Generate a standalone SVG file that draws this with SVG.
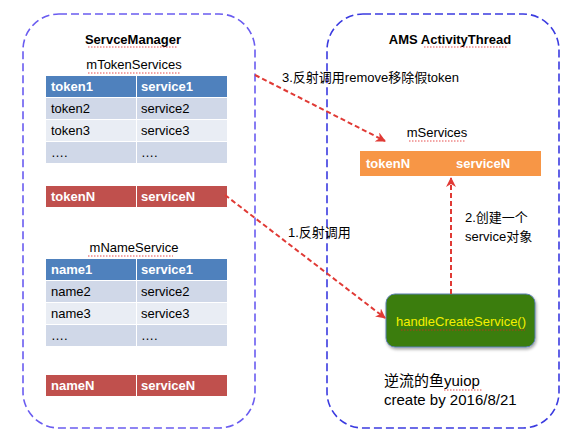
<svg xmlns="http://www.w3.org/2000/svg" width="586" height="445" viewBox="0 0 586 445">
<defs>
<style>
text{font-family:"Liberation Sans","Noto Sans CJK SC",sans-serif;font-size:13px;fill:#000}
.b{font-weight:bold}
.w{fill:#fff;font-weight:bold}
.cont{fill:none;stroke-width:1.6;stroke-dasharray:8,4}
.conn{fill:none;stroke:#E03A35;stroke-width:2;stroke-dasharray:5,3}
.sq{fill:none;stroke:#E02020;stroke-width:0.8;stroke-dasharray:1.5,1.5}
.hd{fill:#4F81BD}
.r1{fill:#D0D8E8}
.r2{fill:#E9EDF4}
.rd{fill:#C0504D}
</style>
<marker id="ah" viewBox="0 0 10 10" refX="9" refY="5" markerWidth="5" markerHeight="5" orient="auto" markerUnits="strokeWidth">
<path d="M0,0 L10,5 L0,10 L3,5 Z" fill="#E03A35"/>
</marker>
<filter id="sh" x="-10%" y="-10%" width="130%" height="140%">
<feDropShadow dx="1" dy="2" stdDeviation="1.5" flood-color="#000" flood-opacity="0.35"/>
</filter>
</defs>

<g id="serviceManager">
<rect x="23" y="14" width="232" height="414" rx="36" class="cont" stroke="#6A5CF0"/>
<text x="133" y="44" text-anchor="middle" class="b">ServceManager</text>
<path d="M88,47 H178" class="sq"/>
</g>

<g id="mTokenServices">
<text x="134" y="69" text-anchor="middle">mTokenServices</text>
<path d="M88,73 H180" class="sq"/>
<rect x="46" y="76" width="90" height="21" class="hd"/><rect x="137" y="76" width="90" height="21" class="hd"/>
<rect x="46" y="98" width="90" height="21" class="r1"/><rect x="137" y="98" width="90" height="21" class="r1"/>
<rect x="46" y="120" width="90" height="21" class="r2"/><rect x="137" y="120" width="90" height="21" class="r2"/>
<rect x="46" y="142" width="90" height="21" class="r1"/><rect x="137" y="142" width="90" height="21" class="r1"/>
<text x="51" y="91" class="w">token1</text><text x="141" y="91" class="w">service1</text>
<text x="51" y="113">token2</text><text x="141" y="113">service2</text>
<text x="51" y="135">token3</text><text x="141" y="135">service3</text>
<text x="51" y="157">….</text><text x="141" y="157">….</text>
</g>

<g id="tokenNRow">
<rect x="46" y="186" width="90" height="21" class="rd"/><rect x="137" y="186" width="90" height="21" class="rd"/>
<text x="51" y="201" class="w">tokenN</text><text x="141" y="201" class="w">serviceN</text>
</g>

<g id="mNameService">
<text x="134" y="252" text-anchor="middle">mNameService</text>
<path d="M88,256 H173" class="sq"/>
<rect x="46" y="259" width="90" height="21" class="hd"/><rect x="137" y="259" width="90" height="21" class="hd"/>
<rect x="46" y="281" width="90" height="21" class="r1"/><rect x="137" y="281" width="90" height="21" class="r1"/>
<rect x="46" y="303" width="90" height="21" class="r2"/><rect x="137" y="303" width="90" height="21" class="r2"/>
<rect x="46" y="325" width="90" height="21" class="r1"/><rect x="137" y="325" width="90" height="21" class="r1"/>
<text x="51" y="274" class="w">name1</text><text x="141" y="274" class="w">service1</text>
<text x="51" y="296">name2</text><text x="141" y="296">service2</text>
<text x="51" y="318">name3</text><text x="141" y="318">service3</text>
<text x="51" y="340">….</text><text x="141" y="340">….</text>
</g>

<g id="nameNRow">
<rect x="46" y="375" width="90" height="21" class="rd"/><rect x="137" y="375" width="90" height="21" class="rd"/>
<text x="51" y="390" class="w">nameN</text><text x="141" y="390" class="w">serviceN</text>
</g>

<g id="activityThread">
<rect x="327" y="14" width="232" height="414" rx="36" class="cont" stroke="#3B3BE0"/>
<text x="450" y="44" text-anchor="middle" class="b">AMS ActivityThread</text>
<path d="M424,47 H508" class="sq"/>
</g>

<g id="mServices">
<text x="437" y="137" text-anchor="middle">mServices</text>
<path d="M409,141 H466" class="sq"/>
<rect x="360" y="151" width="181" height="25" fill="#F79646"/>
<text x="366" y="168" class="w">tokenN</text>
<text x="456" y="168" class="w">serviceN</text>
</g>

<g id="handleCreateService">
<rect x="386" y="294" width="149" height="53" rx="9" fill="#3A7D0C" stroke="#5B7FB0" stroke-width="1" filter="url(#sh)"/>
<text x="461" y="326" text-anchor="middle" style="fill:#F5F000">handleCreateService()</text>
<path d="M401,330 H525" class="sq"/>
</g>

<g id="connectors">
<path d="M255,75 L385,141" class="conn" marker-end="url(#ah)"/>
<path d="M225,195 L385,318" class="conn" marker-end="url(#ah)"/>
<path d="M451,294 L451,178" class="conn" marker-end="url(#ah)"/>
</g>

<g id="labels">
<text x="282" y="82">3.反射调用remove移除假token</text>
<text x="288" y="237">1.反射调用</text>
<text x="465" y="222">2.创建一个</text>
<text x="465" y="241">service对象</text>
<text x="384" y="386" style="font-size:15px">逆流的鱼yuiop</text>
<path d="M444,390 H483" class="sq"/>
<text x="384" y="405" style="font-size:15px">create by 2016/8/21</text>
</g>
</svg>
